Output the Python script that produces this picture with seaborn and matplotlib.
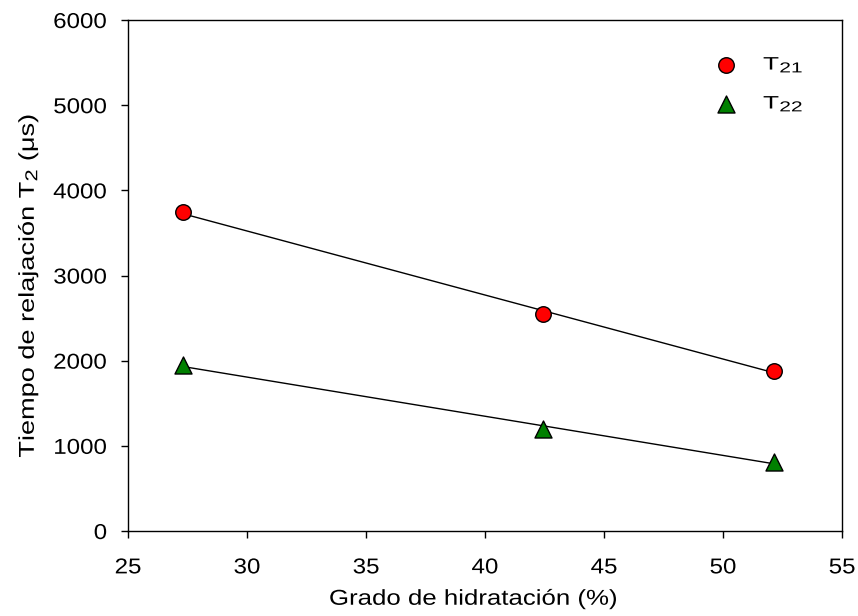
import numpy as np
import pandas as pd
import matplotlib
matplotlib.use("Agg")
import matplotlib.pyplot as plt
import seaborn as sns
from matplotlib.patheffects import AbstractPathEffect
from matplotlib.transforms import Affine2D

try:
    import matplotlib._mathtext as _mt
    _mt.SHRINK_FACTOR = 0.8
except Exception:
    pass

# Data
hydration = [27.3, 42.45, 52.15]
t21 = [3740, 2550, 1880]
t22 = [1945, 1200, 810]
series_labels = [r"T$_\mathregular{21}$", r"T$_\mathregular{22}$"]
x_ticks = [25, 30, 35, 40, 45, 50, 55]
y_ticks = [0, 1000, 2000, 3000, 4000, 5000, 6000]


class HStretch(AbstractPathEffect):
    """Widen text glyphs horizontally (along the text direction)."""
    def __init__(self, sx=1.2, anchor="center"):
        super().__init__()
        self.sx = sx
        self.anchor = anchor

    def draw_path(self, renderer, gc, tpath, affine, rgbFace=None):
        ext = tpath.get_extents()
        if self.anchor == "center":
            x0 = (ext.x0 + ext.x1) / 2
        elif self.anchor == "right":
            x0 = ext.x1
        else:
            x0 = ext.x0
        pre = Affine2D().translate(-x0, 0).scale(self.sx, 1).translate(x0, 0)
        renderer.draw_path(gc, tpath, pre + affine, rgbFace)


sns.set_style("ticks")
plt.rcParams["font.family"] = ["Liberation Sans", "DejaVu Sans"]
plt.rcParams["mathtext.fontset"] = "custom"
plt.rcParams["mathtext.rm"] = "Liberation Sans"
plt.rcParams["mathtext.it"] = "Liberation Sans:italic"
plt.rcParams["mathtext.bf"] = "Liberation Sans:bold"
plt.rcParams["text.color"] = "black"
plt.rcParams["axes.labelcolor"] = "black"

fig = plt.figure(figsize=(8.58, 6.16), dpi=100)
ax = fig.add_axes([128/858, (616-531)/616, (842-128)/858, (531-20)/616])

df1 = pd.DataFrame({"x": hydration, "y": t21})
df2 = pd.DataFrame({"x": hydration, "y": t22})

for df in (df1, df2):
    sns.regplot(data=df, x="x", y="y", ax=ax, ci=None, truncate=True,
                scatter=False, line_kws={"color": "black", "lw": 1.0})

sns.scatterplot(data=df1, x="x", y="y", ax=ax, marker="o", s=125,
                color="#FF0000", edgecolor="black", linewidth=1.0,
                label=series_labels[0], zorder=5)
sns.scatterplot(data=df2, x="x", y="y", ax=ax, marker="^", s=150,
                color="#008000", edgecolor="black", linewidth=1.0,
                label=series_labels[1], zorder=5)

ax.set_xlim(25, 55)
ax.set_ylim(0, 6000)
ax.set_xticks(x_ticks)
ax.set_yticks(y_ticks)
ax.tick_params(direction="out", length=5, width=1, labelsize=15.5, colors="black")
ax.tick_params(axis="x", pad=14)
ax.tick_params(axis="y", pad=10)
for sp in ax.spines.values():
    sp.set_visible(True)
    sp.set_linewidth(1.0)
    sp.set_color("black")

ax.set_xlabel("Grado de hidratación (%)", fontsize=15.5)
ax.set_ylabel(r"Tiempo de relajación T$_\mathregular{2}$ ($\mathregular{\mu}$s)",
              fontsize=15.5)
ax.xaxis.set_label_coords(0.483, -0.113)
ax.yaxis.set_label_coords(-0.122, 0.48)

for t in ax.get_xticklabels():
    t.set_path_effects([HStretch(1.12, "center")])
for t in ax.get_yticklabels():
    t.set_path_effects([HStretch(1.12, "right")])
ax.xaxis.label.set_path_effects([HStretch(1.2, "center")])
ax.yaxis.label.set_path_effects([HStretch(1.26, "center")])

leg = ax.legend(loc="upper left", bbox_to_anchor=(0.81, 0.95), frameon=False,
                fontsize=13, handletextpad=1.45, labelspacing=1.05, handlelength=1.2,
                borderpad=0)
for t in leg.get_texts():
    t.set_path_effects([HStretch(1.45, "left")])

fig.savefig("out.png", dpi=100)
